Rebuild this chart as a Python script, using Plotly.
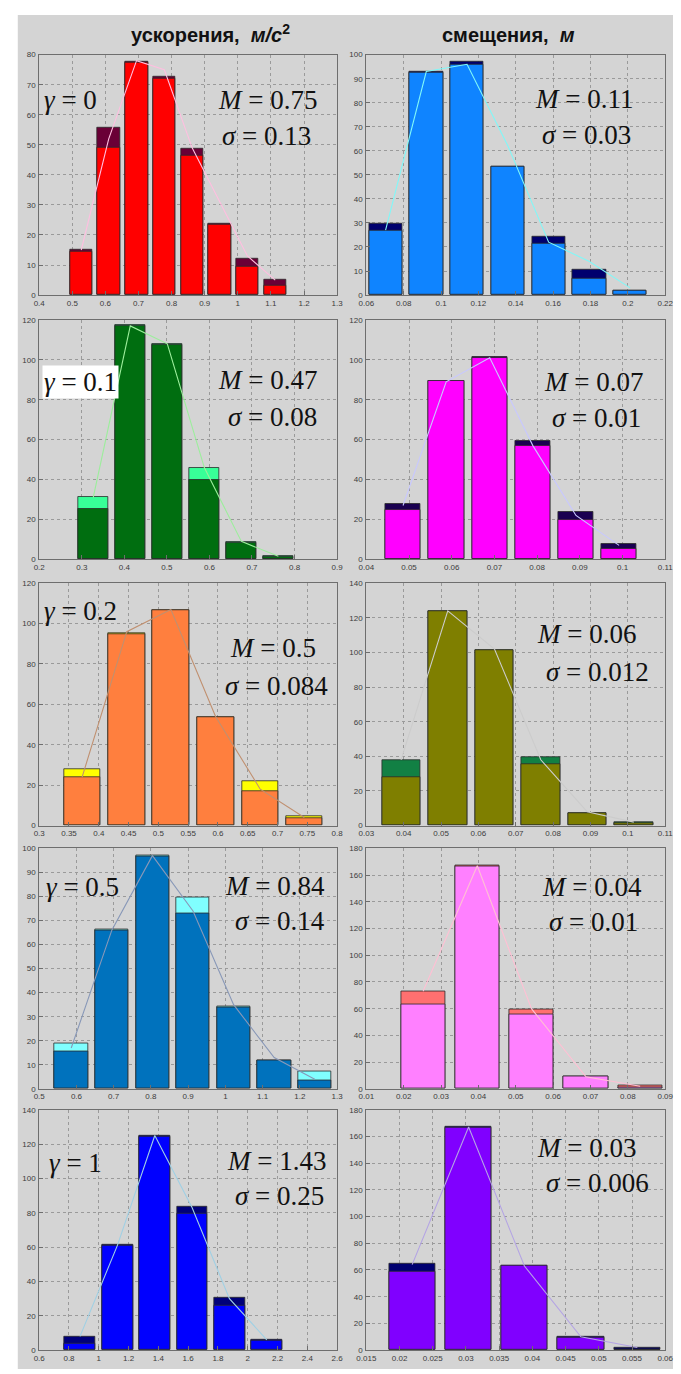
import plotly.graph_objects as go

W, H = 681, 1374

# ---------------- data ----------------
# row labels / statistics
gamma_labels = ["0", "0.1", "0.2", "0.5", "1"]
acc_M = ["0.75", "0.47", "0.5", "0.84", "1.43"]
acc_sigma = ["0.13", "0.08", "0.084", "0.14", "0.25"]
disp_M = ["0.11", "0.07", "0.06", "0.04", "0.03"]
disp_sigma = ["0.03", "0.01", "0.012", "0.01", "0.006"]

# panel 1: accelerations, gamma = 0
p1_x = [0.527, 0.610, 0.694, 0.778, 0.862, 0.945, 1.029, 1.113]
p1_total = [15.1, 55.8, 77.8, 72.6, 48.7, 23.9, 12.0, 5.1]
p1_main = [14.6, 48.9, 77.2, 72.1, 46.4, 23.3, 9.3, 3.2]
p1_line = [15, 52, 78, 75, 49, 31, 13, 5]
p1_xticks = ["0.4", "0.5", "0.6", "0.7", "0.8", "0.9", "1", "1.1", "1.2", "1.3"]

# panel 2: displacements, gamma = 0
p2_x = [0.0703, 0.0921, 0.1139, 0.1358, 0.1576, 0.1794, 0.2012]
p2_total = [29.5, 92.8, 97.2, 53.6, 24.2, 10.5, 2.0]
p2_main = [26.7, 92.5, 96.0, 53.3, 21.2, 6.7, 1.8]
p2_line = [27, 93, 96, 62, 22, 14, 3]
p2_xticks = ["0.06", "0.08", "0.1", "0.12", "0.14", "0.16", "0.18", "0.2", "0.22"]

# panel 3: accelerations, gamma = 0.1
p3_x = [0.327, 0.414, 0.501, 0.588, 0.675, 0.762]
p3_total = [31.4, 117.7, 107.9, 46.0, 8.6, 1.6]
p3_main = [25.2, 116.9, 107.5, 39.8, 8.2, 1.2]
p3_line = [31, 117, 108, 46, 9, 1.5]
p3_xticks = ["0.2", "0.3", "0.4", "0.5", "0.6", "0.7", "0.8", "0.9"]

# panel 4: displacements, gamma = 0.1
p4_x = [0.0486, 0.0587, 0.0689, 0.0790, 0.0891, 0.0992]
p4_total = [27.8, 89.6, 101.6, 59.5, 23.8, 7.8]
p4_main = [24.6, 89.2, 101.2, 57.0, 20.0, 5.0]
p4_line = [27, 89, 101, 57, 22, 7]
p4_xticks = ["0.04", "0.05", "0.06", "0.07", "0.08", "0.09", "0.1", "0.11"]

# panel 5: accelerations, gamma = 0.2
p5_x = [0.372, 0.447, 0.521, 0.596, 0.671, 0.745]
p5_total = [27.9, 95.3, 106.8, 53.9, 21.8, 4.6]
p5_main = [24.2, 95.0, 106.5, 53.6, 16.8, 3.6]
p5_line = [24, 96, 107, 54, 18, 4]
p5_xticks = ["0.3", "0.35", "0.4", "0.45", "0.5", "0.55", "0.6", "0.65", "0.7", "0.75", "0.8"]

# panel 6: displacements, gamma = 0.2
p6_x = [0.0393, 0.0518, 0.0643, 0.0767, 0.0891, 0.1016]
p6_total = [37.7, 124.0, 101.5, 39.6, 7.3, 1.9]
p6_main = [27.9, 123.7, 101.2, 35.2, 7.0, 1.4]
p6_line = [38, 124, 102, 38, 8, 2]
p6_xticks = ["0.03", "0.04", "0.05", "0.06", "0.07", "0.08", "0.09", "0.1", "0.11"]

# panel 7: accelerations, gamma = 0.5
p7_x = [0.586, 0.695, 0.804, 0.913, 1.022, 1.131, 1.240]
p7_total = [18.9, 66.2, 97.2, 79.6, 34.1, 12.0, 7.3]
p7_main = [15.5, 65.8, 96.8, 72.8, 33.8, 11.7, 3.5]
p7_line = [17, 66, 97, 74, 35, 13, 4]
p7_xticks = ["0.5", "0.6", "0.7", "0.8", "0.9", "1", "1.1", "1.2", "1.3"]

# panel 8: displacements, gamma = 0.5
p8_x = [0.0252, 0.0397, 0.0542, 0.0688, 0.0833]
p8_total = [72.7, 167.2, 59.6, 9.4, 2.5]
p8_main = [63.3, 166.8, 55.9, 9.0, 1.0]
p8_line = [73, 167, 60, 9, 2]
p8_xticks = ["0.01", "0.02", "0.03", "0.04", "0.05", "0.06", "0.07", "0.08", "0.09"]

# panel 9: accelerations, gamma = 1
p9_x = [0.874, 1.125, 1.376, 1.626, 1.877, 2.128]
p9_total = [8.1, 61.4, 124.6, 83.3, 30.5, 5.8]
p9_main = [3.9, 61.0, 124.2, 79.2, 25.7, 5.5]
p9_line = [8, 61, 125, 83, 30, 6]
p9_xticks = ["0.6", "0.8", "1", "1.2", "1.4", "1.6", "1.8", "2", "2.2", "2.4", "2.6"]

# panel 10: displacements, gamma = 1
p10_x = [0.0219, 0.0304, 0.0388, 0.0473, 0.0558]
p10_total = [64.5, 167.0, 63.3, 9.9, 2.0]
p10_main = [58.8, 166.6, 63.0, 9.6, 0.5]
p10_line = [64, 167, 63, 10, 2]
p10_xticks = ["0.015", "0.02", "0.025", "0.03", "0.035", "0.04", "0.045", "0.05", "0.055", "0.06"]

# y axis extents and steps
y_max = [80, 100, 120, 120, 120, 140, 100, 180, 140, 180]
y_step = [10, 10, 20, 20, 20, 20, 10, 20, 20, 20]

# ---------------- styles ----------------
panels = [
    (p1_x, p1_total, p1_main, p1_line, p1_xticks, "#ff0000", "#6a0036", "#ffbfe0"),
    (p2_x, p2_total, p2_main, p2_line, p2_xticks, "#0f84ff", "#00006e", "#80f8f8"),
    (p3_x, p3_total, p3_main, p3_line, p3_xticks, "#006e10", "#38ff98", "#9cee9c"),
    (p4_x, p4_total, p4_main, p4_line, p4_xticks, "#ff00ff", "#1a0050", "#c8c8ff"),
    (p5_x, p5_total, p5_main, p5_line, p5_xticks, "#ff7f3e", "#ffff00", "#c09070"),
    (p6_x, p6_total, p6_main, p6_line, p6_xticks, "#7f7f00", "#128044", "#cccccc"),
    (p7_x, p7_total, p7_main, p7_line, p7_xticks, "#0072bd", "#80ffff", "#8898b8"),
    (p8_x, p8_total, p8_main, p8_line, p8_xticks, "#ff80ff", "#ff7070", "#ffc0d4"),
    (p9_x, p9_total, p9_main, p9_line, p9_xticks, "#0000ff", "#00007a", "#a0d0e4"),
    (p10_x, p10_total, p10_main, p10_line, p10_xticks, "#8000ff", "#000070", "#b4a4e4"),
]

# pixel boxes of plot areas
col_px = [(30, 336), (366, 673)]
row_px = [(51, 293), (318, 559), (583, 827), (850, 1092), (1113, 1355)]


def px_x(v):
    return v / W


def px_y(v):
    return 1 - v / H


fig = go.Figure()
layout_axes = {}
for i, (xs, tot, mn, ln, xt, c_main, c_top, c_line) in enumerate(panels):
    n = i + 1
    r, c = divmod(i, 2)
    xname = "x" if n == 1 else f"x{n}"
    yname = "y" if n == 1 else f"y{n}"
    width = 0.82 * (xs[1] - xs[0])
    fig.add_trace(go.Bar(x=xs, y=tot, width=width, marker=dict(color=c_top, line=dict(color="#2a2a2a", width=0.8)),
                         xaxis=xname, yaxis=yname, showlegend=False))
    fig.add_trace(go.Bar(x=xs, y=mn, width=width, marker=dict(color=c_main, line=dict(color="#2a2a2a", width=0.8)),
                         xaxis=xname, yaxis=yname, showlegend=False))
    fig.add_trace(go.Scatter(x=xs, y=ln, mode="lines", line=dict(color=c_line, width=1.1),
                             xaxis=xname, yaxis=yname, showlegend=False))
    tv = [float(t) for t in xt]
    x0, x1 = col_px[c]
    yt, yb = row_px[r]
    common = dict(showgrid=True, gridcolor="#9a9a9a", griddash="dot", gridwidth=1,
                  showline=True, linecolor="#6e6e6e", linewidth=1, mirror=True,
                  ticks="inside", ticklen=4, tickcolor="#6e6e6e",
                  tickfont=dict(family="Liberation Sans", size=8, color="#3c3c3c"),
                  zeroline=False, fixedrange=True)
    layout_axes["xaxis" if n == 1 else f"xaxis{n}"] = dict(
        domain=[px_x(x0), px_x(x1)], anchor=yname, range=[tv[0], tv[-1]],
        tickmode="array", tickvals=tv, ticktext=xt, **common)
    layout_axes["yaxis" if n == 1 else f"yaxis{n}"] = dict(
        domain=[px_y(yb), px_y(yt)], anchor=xname, range=[0, y_max[i]],
        tickmode="linear", tick0=0, dtick=y_step[i], ticklabelstandoff=1, **common)

fig.update_layout(**layout_axes)

# annotations
serif = "Liberation Serif, Times New Roman, serif"
ann = []
font_big = dict(family=serif, size=27, color="#111111")


def add_text(text, lx, cy, bg=None):
    d = dict(text=text, x=px_x(lx), y=px_y(cy), xref="paper", yref="paper",
             xanchor="left", yanchor="middle", showarrow=False, font=font_big)
    if bg:
        d.update(bgcolor=bg, borderpad=1)
    ann.append(d)


gamma_pos = [(33, 97), (33, 380), (33, 611), (35, 889), (38, 1167)]
accM_pos = [(212, 97), (212, 378), (224, 648), (219, 888), (221, 1165)]
accS_pos = [(216, 133), (222, 416), (219, 686), (229, 923), (229, 1200)]
dispM_pos = [(537, 96), (546, 380), (539, 634), (544, 889), (539, 1152)]
dispS_pos = [(544, 132), (555, 417), (549, 672), (552, 924), (549, 1187)]

for k in range(5):
    add_text(f"<i>γ</i> = {gamma_labels[k]}", *gamma_pos[k], bg="white" if k == 1 else None)
    add_text(f"<i>M</i> = {acc_M[k]}", *accM_pos[k])
    add_text(f"<i>σ</i> = {acc_sigma[k]}", *accS_pos[k])
    add_text(f"<i>M</i> = {disp_M[k]}", *dispM_pos[k])
    add_text(f"<i>σ</i> = {disp_sigma[k]}", *dispS_pos[k])

title_font = dict(family="Liberation Sans, Arial, sans-serif", size=20, color="#111111")
ann.append(dict(text="<b>ускорения,  <i>м/с</i><sup>2</sup></b>", x=px_x(206), y=px_y(30),
                xref="paper", yref="paper", xanchor="center", yanchor="middle",
                showarrow=False, font=title_font))
ann.append(dict(text="<b>смещения,  <i>м</i></b>", x=px_x(512), y=px_y(31),
                xref="paper", yref="paper", xanchor="center", yanchor="middle",
                showarrow=False, font=title_font))

fig.update_layout(
    width=W, height=H, margin=dict(l=0, r=0, t=0, b=0),
    paper_bgcolor="white", plot_bgcolor="white",
    barmode="overlay", bargap=0,
    annotations=ann,
    shapes=[dict(type="rect", xref="paper", yref="paper", x0=px_x(8), x1=1, y0=0, y1=px_y(11),
                 fillcolor="#d4d4d4", line=dict(width=0), layer="below")],
)

fig.write_html("out.html", config={"displayModeBar": False},
               post_script="document.body.style.margin='0';document.body.style.overflow='hidden';")
